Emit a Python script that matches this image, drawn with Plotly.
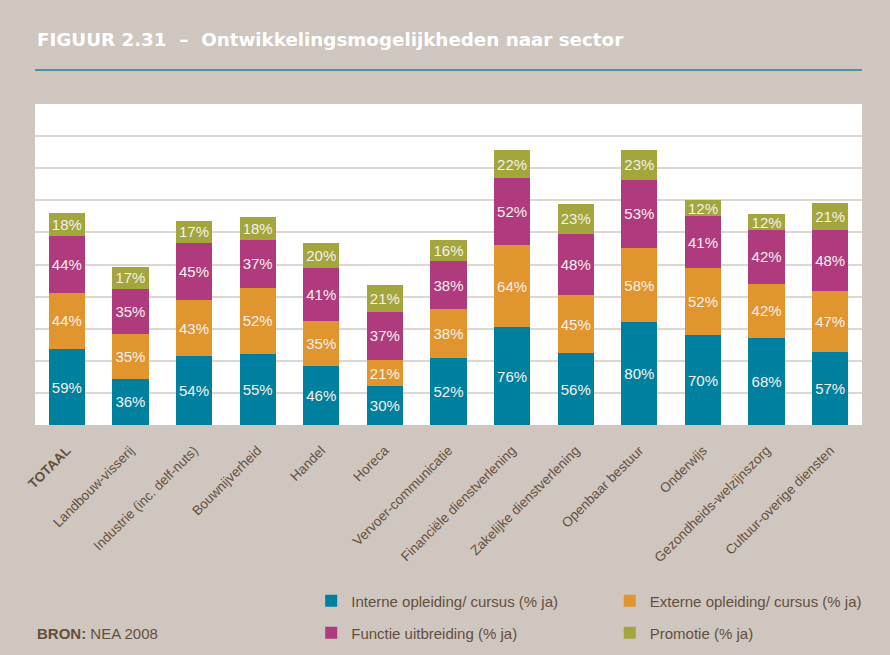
import plotly.graph_objects as go

categories = ["TOTAAL", "Landbouw-visserij", "Industrie (inc. delf-nuts)", "Bouwnijverheid",
              "Handel", "Horeca", "Vervoer-communicatie", "Financiële dienstverlening",
              "Zakelijke dienstverlening", "Openbaar bestuur", "Onderwijs",
              "Gezondheids-welzijnszorg", "Cultuur-overige diensten"]
tick_labels = ["<b>TOTAAL</b>"] + categories[1:]

interne = [59, 36, 54, 55, 46, 30, 52, 76, 56, 80, 70, 68, 57]
externe = [44, 35, 43, 52, 35, 21, 38, 64, 45, 58, 52, 42, 47]
functie = [44, 35, 45, 37, 41, 37, 38, 52, 48, 53, 41, 42, 48]
promotie = [18, 17, 17, 18, 20, 21, 16, 22, 23, 23, 12, 12, 21]

series = [
    ("Interne opleiding/ cursus (% ja)", interne, "#00809f", "legend"),
    ("Externe opleiding/ cursus (% ja)", externe, "#e0952f", "legend2"),
    ("Functie uitbreiding (% ja)", functie, "#b03a7e", "legend3"),
    ("Promotie (% ja)", promotie, "#a3a53d", "legend4"),
]

BG = "#cfc6bf"
TXT = "#654f3b"
NARROW = "Liberation Sans Narrow, Arial Narrow, Liberation Sans, Arial, sans-serif"

fig = go.Figure()
for name, vals, color, lg in series:
    fig.add_trace(go.Bar(
        x=categories, y=vals, name=name, marker=dict(color=color, line=dict(width=0)),
        texttemplate="%{y}%", textposition="inside", insidetextanchor="middle",
        textfont=dict(color="#f4f0ec", size=15, family=NARROW),
        constraintext="none", legend=lg, hoverinfo="skip",
    ))

def leg(x, y):
    return dict(orientation="h", x=x, y=y, xanchor="left", yanchor="middle",
                bgcolor="rgba(0,0,0,0)", borderwidth=0,
                font=dict(family=NARROW, size=15, color=TXT))

fig.update_layout(
    barmode="stack", bargap=0.43,
    width=890, height=655,
    margin=dict(l=35, r=28, t=104, b=230, autoexpand=False),
    paper_bgcolor=BG, plot_bgcolor="white",
    uniformtext=dict(mode="show", minsize=15),
    font=dict(family="Liberation Sans, Arial, sans-serif", color=TXT),
    legend=leg(0.334, -0.548),
    legend2=leg(0.695, -0.548),
    legend3=leg(0.334, -0.648),
    legend4=leg(0.695, -0.648),
    showlegend=True,
)

fig.update_xaxes(tickmode="array", tickvals=categories, ticktext=tick_labels,
                 tickangle=-45, ticklabelstandoff=14, automargin=False,
                 tickfont=dict(size=13.5, color=TXT, family="Liberation Sans, Arial, sans-serif"),
                 showline=False, ticks="", showgrid=False)
fig.update_yaxes(range=[0, 250], dtick=25, showticklabels=False, showgrid=True,
                 gridcolor="#ddd6d1", gridwidth=2, zeroline=False, showline=False,
                 automargin=False)

fig.add_shape(type="line", xref="paper", yref="paper", x0=0, x1=1, y0=1.106, y1=1.106,
              line=dict(color="#3e97ad", width=2))
fig.add_annotation(xref="paper", yref="paper", x=0, y=1.2, xanchor="left", yanchor="middle",
                   text="<b>FIGUUR 2.31\u00a0 –\u00a0 Ontwikkelingsmogelijkheden naar sector</b>",
                   showarrow=False, font=dict(size=18.3, color="white",
                   family="DejaVu Sans, Liberation Sans, Arial, sans-serif"))
fig.add_annotation(xref="paper", yref="paper", x=0, y=-0.648, xanchor="left", yanchor="middle",
                   text="<b>BRON:</b> NEA 2008", showarrow=False,
                   font=dict(size=15, color=TXT, family=NARROW))

fig.write_html("out.html", config={"displayModeBar": False},
               post_script="document.body.style.margin='0';")
